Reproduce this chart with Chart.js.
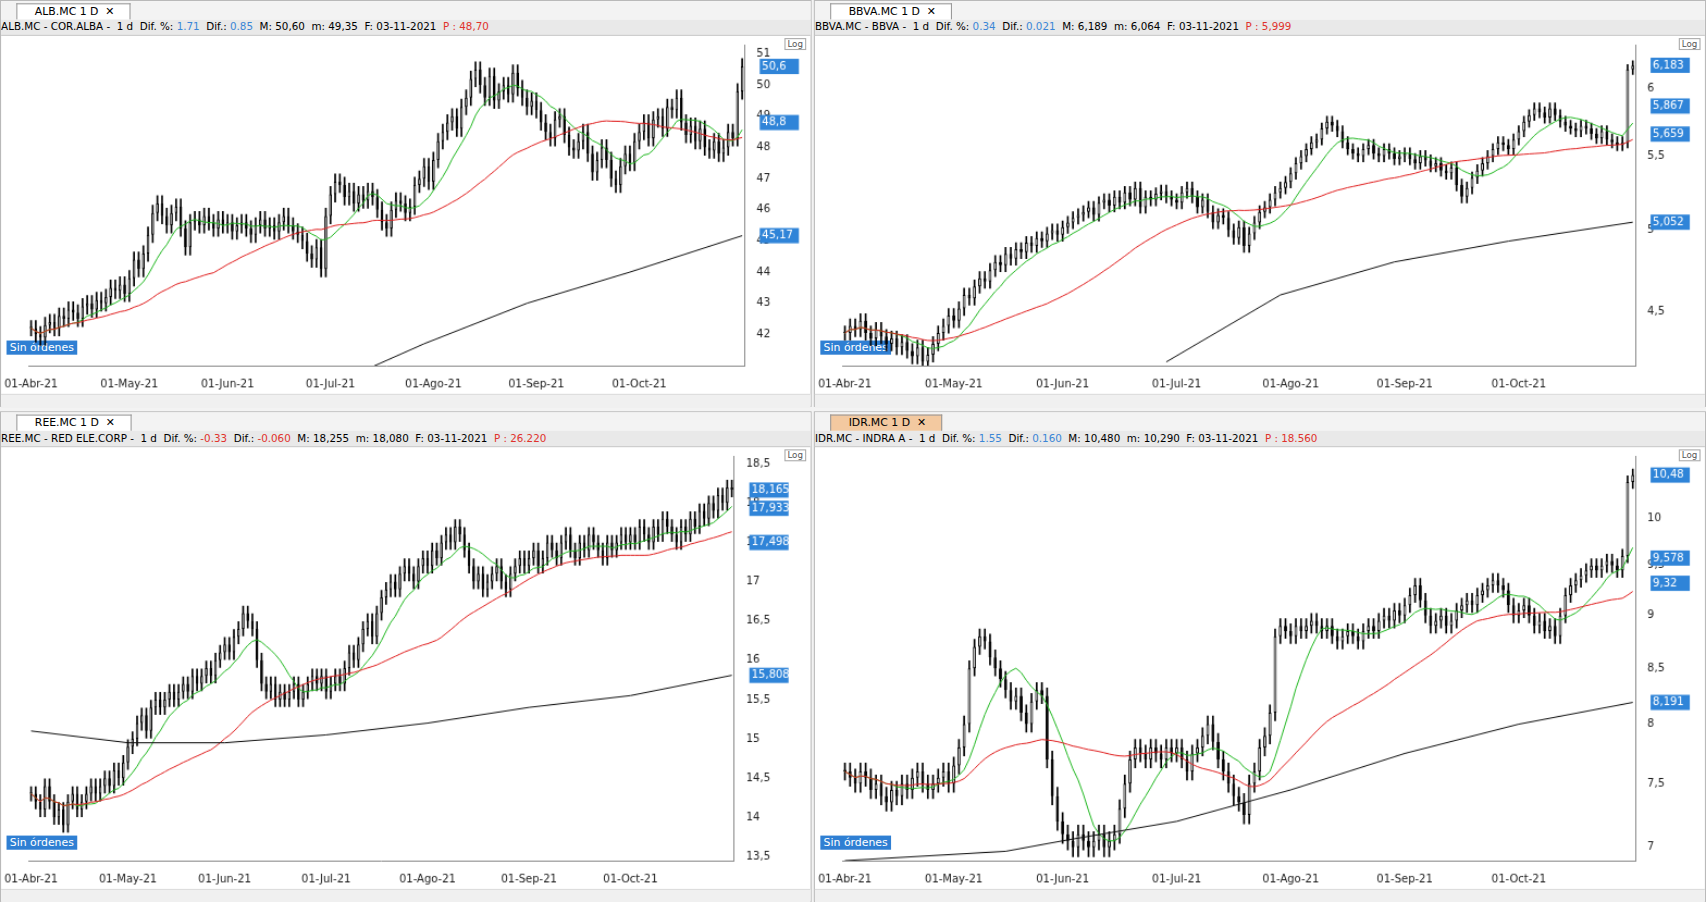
<!DOCTYPE html>
<html><head><meta charset="utf-8">
<script src="https://cdn.jsdelivr.net/npm/chart.js@4"></script>
<style>
body{margin:0;background:#fff;font-family:"DejaVu Sans",sans-serif;overflow:hidden}
#wrap{position:absolute;left:0;top:0;width:1568px;height:829px;transform:scale(1.088,1.088);transform-origin:0 0;background:#f3f3f3}
.panel{position:absolute;background:#fff;border:1px solid #b9b9b9;box-sizing:border-box}
.tabrow{position:absolute;left:0;right:0;top:0;height:17px;background:#f3f3f3;font-size:10px}
.tab{position:absolute;left:14px;top:2px;height:14px;padding:0 14px 0 16px;border:1px solid #9a9a9a;border-bottom:none;background:#fff;font-size:10px;line-height:14px}
.hdr{position:absolute;left:0;right:0;top:17px;height:14px;background:#e9e9e9;font-size:9.5px;line-height:14px;white-space:nowrap;overflow:hidden;border-bottom:1px solid #ccc}
.b{color:#3a86d6}.r{color:#e0322c}
.cv{position:absolute;left:0;top:31px}
.sin{position:absolute;left:5px;background:#2f7fd3;color:#fff;font-size:10px;padding:1px 3px}
.scroll{position:absolute;left:0;right:0;height:12px;background:#f0f0f0;border-top:1px solid #ddd}
.log{position:absolute;right:4px;top:34px;font-size:8px;border:1px solid #aaa;color:#555;padding:0 2px;background:#fff}
</style></head><body>
<div id="wrap"></div>
<script>
// ---------- data ----------
const skipDates=['2021-04-02','2021-11-01'];
const monthNames=['Ene','Feb','Mar','Abr','May','Jun','Jul','Ago','Sep','Oct','Nov','Dic'];

const albClose=[42.2,42.0,41.9,42.3,42.4,42.2,42.6,42.5,42.8,42.7,42.5,42.9,43.0,42.8,43.1,43.0,43.2,43.5,43.4,43.6,43.3,
43.8,44.4,44.1,44.6,45.2,45.9,46.2,45.8,45.5,45.9,46.1,45.4,44.8,45.6,45.7,45.5,45.8,45.6,45.4,45.7,45.5,
45.6,45.3,45.5,45.6,45.4,45.2,45.5,45.7,45.4,45.5,45.3,45.6,45.8,45.5,45.3,45.2,45.0,44.6,44.4,44.8,44.1,45.8,
46.5,46.9,46.8,46.4,46.6,46.2,46.5,46.3,46.6,46.4,46.0,45.6,45.4,46.0,46.3,46.2,45.9,46.1,46.8,47.0,47.4,46.9,
47.6,48.2,48.5,48.8,49.0,48.6,49.3,49.6,50.2,50.5,50.0,49.6,50.3,49.5,49.8,50.0,49.7,50.4,49.9,49.6,49.3,49.5,
49.2,48.8,48.5,48.3,48.9,49.0,48.4,48.0,47.9,48.2,48.5,47.8,47.2,47.6,48.0,47.6,47.0,46.8,47.4,47.8,47.5,48.2,
48.5,48.8,48.3,48.9,49.0,48.6,49.3,49.2,49.6,48.8,48.4,48.7,48.2,48.6,48.0,47.9,48.2,47.8,48.0,48.5,48.3,
49.8,50.6];
const bbvaClose=[4.38,4.42,4.40,4.45,4.38,4.35,4.40,4.36,4.32,4.35,4.30,4.33,4.28,4.25,4.30,4.22,4.26,4.32,4.38,4.42,4.48,
4.45,4.52,4.60,4.58,4.65,4.70,4.68,4.75,4.80,4.78,4.85,4.82,4.88,4.86,4.92,4.90,4.95,4.93,4.98,5.00,4.97,
5.02,5.05,5.08,5.10,5.12,5.15,5.10,5.18,5.20,5.16,5.22,5.18,5.25,5.20,5.28,5.15,5.22,5.20,5.24,5.26,5.22,5.20,
5.18,5.25,5.28,5.22,5.15,5.20,5.12,5.05,5.10,5.08,5.00,4.95,5.02,4.90,4.98,5.05,5.12,5.15,5.20,5.25,5.28,5.32,
5.38,5.45,5.50,5.55,5.60,5.62,5.70,5.75,5.72,5.68,5.60,5.55,5.52,5.50,5.55,5.58,5.52,5.50,5.55,5.52,5.48,5.50,
5.52,5.48,5.45,5.50,5.47,5.43,5.45,5.40,5.38,5.42,5.30,5.22,5.28,5.35,5.40,5.45,5.50,5.55,5.60,5.58,5.55,5.62,
5.68,5.75,5.80,5.85,5.82,5.78,5.85,5.80,5.75,5.72,5.70,5.68,5.72,5.70,5.66,5.63,5.68,5.62,5.60,5.58,5.60,
6.15,6.18];
const reeClose=[14.3,14.2,14.1,14.4,14.2,14.0,14.1,13.9,14.2,14.3,14.1,14.2,14.3,14.4,14.3,14.4,14.5,14.4,14.6,14.5,14.7,
14.9,15.0,15.2,15.3,15.1,15.4,15.5,15.4,15.5,15.6,15.5,15.6,15.7,15.6,15.8,15.7,15.8,15.9,15.8,16.0,16.1,
16.2,16.1,16.3,16.4,16.6,16.5,16.4,16.0,15.7,15.6,15.7,15.5,15.6,15.5,15.6,15.7,15.5,15.6,15.7,15.8,15.7,15.8,
15.6,15.7,15.8,15.7,15.9,16.1,16.0,16.2,16.4,16.5,16.3,16.6,16.8,16.9,17.0,16.9,17.1,17.2,17.1,17.0,17.2,17.3,
17.2,17.4,17.3,17.5,17.6,17.5,17.7,17.6,17.4,17.2,17.0,17.1,16.9,17.0,17.1,17.2,17.0,16.9,17.1,17.2,17.3,17.2,
17.3,17.4,17.2,17.3,17.5,17.4,17.3,17.5,17.6,17.4,17.3,17.5,17.4,17.6,17.5,17.4,17.3,17.5,17.4,17.5,17.6,17.5,
17.6,17.5,17.7,17.6,17.5,17.7,17.6,17.8,17.7,17.6,17.5,17.7,17.6,17.8,17.7,17.9,17.8,18.0,17.9,18.1,18.0,
18.2,18.17];
const idrClose=[7.6,7.55,7.5,7.6,7.55,7.45,7.5,7.4,7.35,7.45,7.4,7.5,7.45,7.55,7.6,7.5,7.45,7.5,7.55,7.6,7.5,
7.65,7.8,8.0,8.5,8.7,8.8,8.75,8.6,8.5,8.4,8.3,8.2,8.25,8.1,8.0,8.2,8.3,8.25,7.7,7.4,7.2,
7.1,7.05,7.0,7.1,7.05,7.0,7.05,7.1,7.0,7.05,7.1,7.3,7.5,7.7,7.8,7.75,7.7,7.8,7.75,7.7,7.8,7.75,
7.8,7.7,7.6,7.75,7.8,7.9,8.0,7.85,7.7,7.6,7.5,7.4,7.35,7.25,7.5,7.6,7.8,7.9,8.1,8.8,8.9,8.85,
8.8,8.9,8.85,8.9,8.95,8.9,8.85,8.9,8.8,8.75,8.8,8.85,8.8,8.75,8.85,8.9,8.85,8.95,9.0,8.95,9.05,9.0,
9.1,9.2,9.3,9.15,9.0,8.9,8.95,9.0,8.9,8.95,9.05,9.1,9.15,9.1,9.2,9.25,9.3,9.35,9.3,9.25,9.1,9.0,
9.05,9.1,9.0,8.9,8.95,8.85,8.9,8.8,9.0,9.2,9.3,9.35,9.4,9.45,9.5,9.45,9.5,9.55,9.5,9.45,9.6,
10.4,10.48];
// long moving average readings (index -> value)
const albLongIdx=[72,84,106,128,152]; const albLongVal=[40.9,41.7,43.0,44.0,45.17];
const bbvaLongIdx=[62,84,106,128,152]; const bbvaLongVal=[4.22,4.6,4.8,4.93,5.052];
const reeLongIdx=[0,21,42,64,86,108,130,152]; const reeLongVal=[15.1,14.95,14.95,15.05,15.2,15.4,15.55,15.808];
const idrLongIdx=[0,31,42,64,86,108,130,152]; const idrLongVal=[6.9,6.97,7.05,7.2,7.45,7.75,8.0,8.191];
const albTicks=[42,43,44,45,46,47,48,49,50,51];
const bbvaTicks=[4.5,5,5.5,6];
const reeTicks=[13.5,14,14.5,15,15.5,16,16.5,17,17.5,18,18.5];
const idrTicks=[7,7.5,8,8.5,9,9.5,10];
const albTags=[50.6,48.8,45.17]; const bbvaTags=[6.183,5.867,5.659,5.052];
const reeTags=[18.165,17.933,17.498,15.808]; const idrTags=[10.48,9.578,9.32,8.191];

// ---------- dates ----------
const dates=[];
for(let d=new Date(Date.UTC(2021,3,1));d<=new Date(Date.UTC(2021,10,3));d.setUTCDate(d.getUTCDate()+1)){
  const wd=d.getUTCDay(); const iso=d.toISOString().slice(0,10);
  if(wd===0||wd===6||skipDates.includes(iso))continue; dates.push(new Date(d));
}
const labels=dates.map(d=>'01-'+monthNames[d.getUTCMonth()]+'-21');
const firstOfMonth=dates.map((d,i)=>i===0||d.getUTCMonth()!==dates[i-1].getUTCMonth());

function sma(arr,n){return arr.map((_,i)=>{const s=arr.slice(Math.max(0,i-n+1),i+1);return s.reduce((a,b)=>a+b,0)/s.length;});}
function fmt(v){return String(v).replace('.',',');}

const tagPlugin={id:'tags',afterDraw(ch){const t=ch.options.plugins.tags;if(!t)return;const c=ch.ctx,ys=ch.scales.y;
 c.save();c.font='10px "DejaVu Sans"';t.values.forEach(v=>{const y=ys.getPixelForValue(v);const x=ch.chartArea.right+14;
 c.fillStyle='#2f84d8';c.fillRect(x,y-7,36,14);c.fillStyle='#fff';c.textBaseline='middle';c.fillText(fmt(v),x+2,y);});c.restore();}};

function makePanel(o){
 const p=document.createElement('div');p.className='panel';
 Object.assign(p.style,{left:o.x+'px',top:o.y+'px',width:o.w+'px',height:o.h+'px'});
 p.innerHTML=`<div class="tabrow"><div class="tab" style="${o.tabStyle||''}">${o.tab} &nbsp;✕</div></div><div class="hdr">${o.hdr}</div>
 <div class="log">Log</div><div class="sin" style="top:${o.h-62}px">Sin órdenes</div><div class="scroll" style="top:${o.h-13}px"></div>`;
 const cv=document.createElement('canvas');cv.className='cv';cv.width=o.w-2;cv.height=o.h-31-13;
 cv.style.width=cv.width+'px';cv.style.height=cv.height+'px';p.appendChild(cv);
 document.getElementById('wrap').appendChild(p);
 const cl=o.close, op=cl.map((c,i)=>i?cl[i-1]:c);
 const body=cl.map((c,i)=>[op[i],c===op[i]?c+o.wick*0.2:c]);
 const wick=cl.map((c,i)=>[Math.min(c,op[i])-o.wick,Math.max(c,op[i])+o.wick]);
 const up=cl.map((c,i)=>c>=op[i]);
 const longData=labels.map(()=>null);o.longIdx.forEach((ix,k)=>longData[ix]=o.longVal[k]);
 new Chart(cv,{data:{labels,datasets:[
  {type:'line',data:longData,borderColor:'#111',borderWidth:1,pointRadius:0,spanGaps:true,order:0},
  {type:'line',data:sma(cl,40),borderColor:'#e02020',borderWidth:1,pointRadius:0,order:0},
  {type:'line',data:sma(cl,10),borderColor:'#22b822',borderWidth:1,pointRadius:0,order:0},
  {type:'bar',data:body,backgroundColor:up.map(u=>u?'#fff':'#000'),borderColor:'#000',borderWidth:1,borderSkipped:false,barPercentage:0.6,categoryPercentage:1,grouped:false,order:1},
  {type:'bar',data:wick,backgroundColor:'#000',barThickness:1,grouped:false,order:2}
 ]},options:{responsive:false,animation:false,layout:{padding:{right:34,left:0,top:4}},
  plugins:{legend:{display:false},tooltip:{enabled:false},tags:{values:o.tags}},
  scales:{x:{grid:{display:false},border:{color:'#888'},ticks:{autoSkip:false,maxRotation:0,font:{size:10,family:'DejaVu Sans'},color:'#222',
     callback:(v,i)=>firstOfMonth[i]&&i<labels.length-3?labels[i]:''}},
   y:{type:o.log?'logarithmic':'linear',position:'right',min:o.min,max:o.max,grid:{display:false},border:{color:'#888'},
     afterBuildTicks:s=>{s.ticks=o.ticks.map(v=>({value:v}));},
     ticks:{font:{size:10,family:'DejaVu Sans'},color:'#222',callback:v=>fmt(v)}}}},plugins:[tagPlugin]});
}
makePanel({x:0,y:0,w:746,h:374,tab:'ALB.MC 1 D',close:albClose,wick:0.25,min:41,max:51.3,ticks:albTicks,longIdx:albLongIdx,longVal:albLongVal,tags:albTags,
 hdr:'ALB.MC - COR.ALBA -&nbsp; 1 d&nbsp; Dif. %: <span class="b">1.71</span>&nbsp; Dif.: <span class="b">0.85</span>&nbsp; M: 50,60&nbsp; m: 49,35&nbsp; F: 03-11-2021&nbsp; <span class="r">P : 48,70</span>'});
makePanel({x:748,y:0,w:820,h:374,tab:'BBVA.MC 1 D',close:bbvaClose,wick:0.04,log:true,min:4.2,max:6.35,ticks:bbvaTicks,longIdx:bbvaLongIdx,longVal:bbvaLongVal,tags:bbvaTags,
 hdr:'BBVA.MC - BBVA -&nbsp; 1 d&nbsp; Dif. %: <span class="b">0.34</span>&nbsp; Dif.: <span class="b">0.021</span>&nbsp; M: 6,189&nbsp; m: 6,064&nbsp; F: 03-11-2021&nbsp; <span class="r">P : 5,999</span>'});
makePanel({x:0,y:378,w:746,h:451,tab:'REE.MC 1 D',close:reeClose,wick:0.09,min:13.45,max:18.6,ticks:reeTicks,longIdx:reeLongIdx,longVal:reeLongVal,tags:reeTags,
 hdr:'REE.MC - RED ELE.CORP -&nbsp; 1 d&nbsp; Dif. %: <span class="r">-0.33</span>&nbsp; Dif.: <span class="r">-0.060</span>&nbsp; M: 18,255&nbsp; m: 18,080&nbsp; F: 03-11-2021&nbsp; <span class="r">P : 26.220</span>'});
makePanel({x:748,y:378,w:820,h:451,tab:'IDR.MC 1 D',tabStyle:'background:#f3c9a0',close:idrClose,wick:0.07,log:true,min:6.9,max:10.7,ticks:idrTicks,longIdx:idrLongIdx,longVal:idrLongVal,tags:idrTags,
 hdr:'IDR.MC - INDRA A -&nbsp; 1 d&nbsp; Dif. %: <span class="b">1.55</span>&nbsp; Dif.: <span class="b">0.160</span>&nbsp; M: 10,480&nbsp; m: 10,290&nbsp; F: 03-11-2021&nbsp; <span class="r">P : 18.560</span>'});
</script></body></html>
